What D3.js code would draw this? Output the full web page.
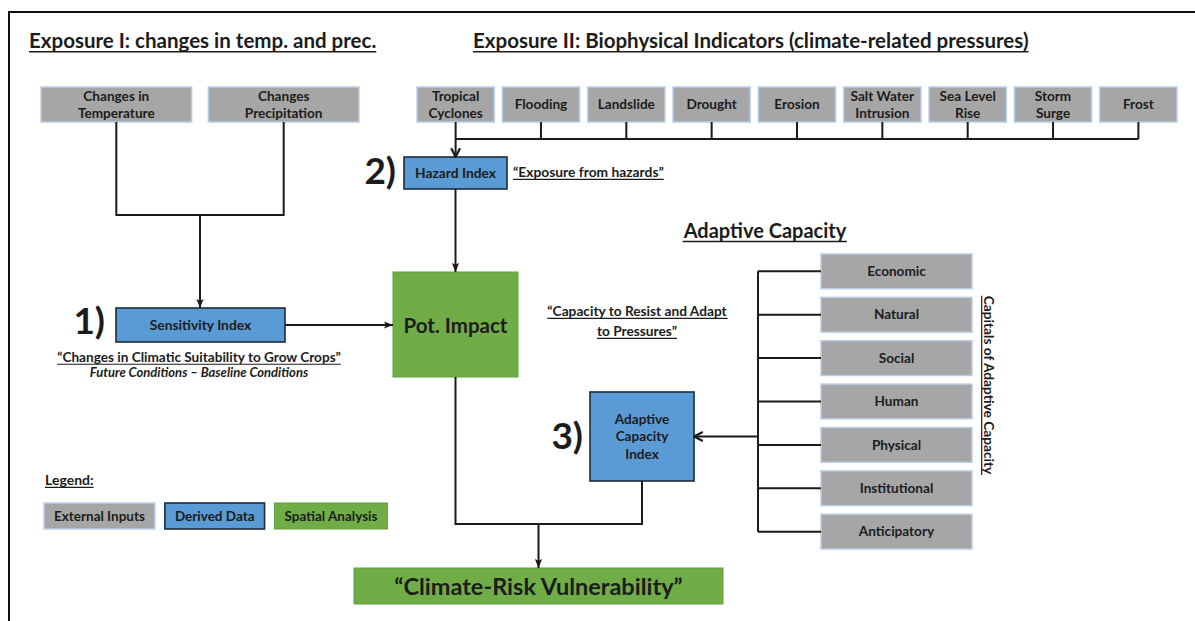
<!DOCTYPE html>
<html><head><meta charset="utf-8">
<script src="https://cdn.jsdelivr.net/npm/d3@7"></script>
<style>
body{margin:0;background:#fff}
svg{display:block}
text{font-family:Lato,"Open Sans",sans-serif;font-weight:700;fill:#1c1c1c}
</style>
</head><body>
<svg id="c" width="1195" height="621"></svg>
<script>
// ---- content ----
const titles = ["Exposure I: changes in temp. and prec.", "Exposure II: Biophysical Indicators (climate-related pressures)", "Adaptive Capacity"];
const exposureInputs = ["Changes in|Temperature", "Changes|Precipitation"];
const hazards = ["Tropical|Cyclones", "Flooding", "Landslide", "Drought", "Erosion", "Salt Water|Intrusion", "Sea Level|Rise", "Storm|Surge", "Frost"];
const capitals = ["Economic", "Natural", "Social", "Human", "Physical", "Institutional", "Anticipatory"];
const indexLabels = ["Sensitivity Index", "Hazard Index", "Adaptive|Capacity|Index"];
const indexNumbers = ["1)", "2)", "3)"];
const notes = ["“Changes in Climatic Suitability to Grow Crops”", "Future Conditions – Baseline Conditions", "“Exposure from hazards”", "“Capacity to Resist and Adapt|to Pressures”", "Capitals of Adaptive Capacity"];
const outputs = ["Pot. Impact", "“Climate-Risk Vulnerability”"];
const legendTitle = "Legend:";
const legendItems = ["External Inputs", "Derived Data", "Spatial Analysis"];
const legendKinds = ["input", "derived", "spatial"];

// ---- styles ----
const STY = {
  input:   {fill: "#a6a6a6", stroke: "#b9cde6", sw: 1.5},
  derived: {fill: "#5b9bd5", stroke: "#1d2b3d", sw: 1.6},
  spatial: {fill: "#70ad47", stroke: "#63a03c", sw: 1}
};
const LINE = "#1a1a1a";

const svg = d3.select("#c");
const defs = svg.append("defs");
defs.append("marker").attr("id", "arr").attr("viewBox", "0 0 10 10")
  .attr("refX", 10).attr("refY", 5).attr("markerWidth", 9).attr("markerHeight", 9)
  .attr("markerUnits", "userSpaceOnUse").attr("orient", "auto")
  .append("path").attr("d", "M0,1 L10,5 L0,9 L2,5 Z").attr("fill", LINE);
defs.append("marker").attr("id", "chev").attr("viewBox", "0 0 10 10")
  .attr("refX", 9).attr("refY", 5).attr("markerWidth", 11).attr("markerHeight", 11)
  .attr("markerUnits", "userSpaceOnUse").attr("orient", "auto")
  .append("path").attr("d", "M1,1 L9,5 L1,9").attr("fill", "none").attr("stroke", LINE).attr("stroke-width", 2);

// frame
svg.append("path").attr("d", "M9,621 V12 H1195").attr("fill", "none").attr("stroke", "#111").attr("stroke-width", 2);

function box(g, x, y, w, h, kind) {
  const s = STY[kind];
  return g.append("rect").attr("x", x).attr("y", y).attr("width", w).attr("height", h)
    .attr("fill", s.fill).attr("stroke", s.stroke).attr("stroke-width", s.sw);
}
function label(g, str, cx, cy, size, lh, opts = {}) {
  const lines = str.split("|");
  const t = g.append("text").attr("text-anchor", opts.anchor || "middle")
    .attr("font-size", size).attr("font-style", opts.italic ? "italic" : null);
  const y0 = cy - (lines.length - 1) * lh / 2;
  lines.forEach((ln, i) => {
    t.append("tspan").attr("x", cx).attr("y", y0 + i * lh).attr("dy", "0.35em").text(ln);
  });
  return t;
}
function underline(t, off = 2, sw = 1.2) {
  const g = d3.select(t.node().parentNode);
  t.selectAll("tspan").each(function () {
    const b = this.getBBox();
    const base = +this.getAttribute("y") + parseFloat(t.attr("font-size")) * 0.35 + off;
    g.append("line").attr("x1", b.x).attr("x2", b.x + b.width).attr("y1", base).attr("y2", base)
      .attr("stroke", "#1c1c1c").attr("stroke-width", sw);
  });
}
function link(d, marker) {
  const p = svg.append("path").attr("d", d).attr("fill", "none").attr("stroke", LINE).attr("stroke-width", 2);
  if (marker) p.attr("marker-end", `url(#${marker})`);
  return p;
}

const G = svg.append("g");
const BOX_FS = 13.6;

// titles
underline(label(G, titles[0], 29, 41, 20.5, 0, {anchor: "start"}), 3.5, 1.6);
underline(label(G, titles[1], 473, 41, 20.5, 0, {anchor: "start"}), 3.5, 1.6);
underline(label(G, titles[2], 765, 231, 20, 0), 3.5, 1.6);

// ---- Exposure I inputs ----
const xIn = d3.scaleBand().domain(exposureInputs).range([41, 359]).paddingInner(0.1);
const inTop = 87, inH = 35;
exposureInputs.forEach(d => {
  box(G, xIn(d), inTop, xIn.bandwidth(), inH, "input");
  label(G, d, xIn(d) + xIn.bandwidth() / 2, inTop + inH / 2, BOX_FS, 16.5);
});
const c0 = xIn(exposureInputs[0]) + xIn.bandwidth() / 2;
const c1 = xIn(exposureInputs[1]) + xIn.bandwidth() / 2;
link(`M${c0},${inTop + inH} V215 H${c1} V${inTop + inH}`);

// sensitivity index
const sens = {x: 116, y: 308, w: 169, h: 34};
link(`M${(c0 + c1) / 2},215 V${sens.y}`, "arr");
box(G, sens.x, sens.y, sens.w, sens.h, "derived");
label(G, indexLabels[0], sens.x + sens.w / 2, sens.y + sens.h / 2, 13.8, 0);
label(G, indexNumbers[0], sens.x - 11, 321, 37, 0, {anchor: "end"});
underline(label(G, notes[0], 199, 357, 13.6, 0), 2.5);
label(G, notes[1], 199, 372, 13, 0, {italic: true});

// ---- Hazards ----
const xH = d3.scaleBand().domain(hazards).range([417, 1177]).paddingInner(0.095);
const hTop = 87, hH = 35, busY = 139;
const hc = d => xH(d) + xH.bandwidth() / 2;
hazards.forEach((d, i) => {
  if (i > 0) link(`M${hc(d)},${hTop + hH} V${busY}`);
});
link(`M${hc(hazards[0])},${busY} H${hc(hazards[hazards.length - 1])}`);
hazards.forEach(d => {
  box(G, xH(d), hTop, xH.bandwidth(), hH, "input");
  label(G, d, hc(d), hTop + hH / 2, BOX_FS, 16.5);
});

const pot = {x: 393, y: 272, w: 125, h: 105};
const potC = pot.x + pot.w / 2;
const haz = {x: 404, y: 157, w: 103, h: 32};
link(`M${hc(hazards[0])},${hTop + hH} V${haz.y}`, "chev");
box(G, haz.x, haz.y, haz.w, haz.h, "derived");
label(G, indexLabels[1], haz.x + haz.w / 2, haz.y + haz.h / 2, 13.8, 0);
label(G, indexNumbers[1], haz.x - 8, 171, 37, 0, {anchor: "end"});
underline(label(G, notes[2], 513, 172, 13.8, 0, {anchor: "start"}), 2.5);

// hazard -> pot impact ; sensitivity -> pot impact
link(`M${potC},${haz.y + haz.h} V${pot.y}`, "arr");
link(`M${sens.x + sens.w},${sens.y + sens.h / 2} H${pot.x}`, "arr");
box(G, pot.x, pot.y, pot.w, pot.h, "spatial");
label(G, outputs[0], potC, pot.y + pot.h / 2 + 1, 20.5, 0);

// ---- Adaptive capacity ----
const yC = d3.scaleBand().domain(capitals).range([254, 549]).paddingInner(0.2);
const capX = 821, capW = 151, brX = 758;
const cc = d => yC(d) + yC.bandwidth() / 2;
link(`M${brX},${cc(capitals[0])} V${cc(capitals[capitals.length - 1])}`);
capitals.forEach(d => {
  link(`M${brX},${cc(d)} H${capX}`);
  box(G, capX, yC(d), capW, yC.bandwidth(), "input");
  label(G, d, capX + capW / 2, cc(d), BOX_FS, 0);
});
const ada = {x: 590, y: 392, w: 104, h: 89};
link(`M${brX},${ada.y + ada.h / 2} H${ada.x + ada.w}`, "chev");
box(G, ada.x, ada.y, ada.w, ada.h, "derived");
label(G, indexLabels[2], ada.x + ada.w / 2, ada.y + ada.h / 2, 13.6, 17.5);
label(G, indexNumbers[2], ada.x - 7, 436, 37, 0, {anchor: "end"});
underline(label(G, notes[3], 637, 321, 13.7, 20), 2.5);

// rotated caption
const rg = G.append("g").attr("transform", "translate(989,385) rotate(90)");
underline(label(rg, notes[4], 0, 0, 13.7, 0), 2.5);

// ---- Final output ----
const cr = {x: 354, y: 568, w: 369, h: 36};
const crC = cr.x + cr.w / 2;
const joinY = 524;
link(`M${potC},${pot.y + pot.h} V${joinY} H${ada.x + ada.w / 2} V${ada.y + ada.h}`);
link(`M${crC},${joinY} V${cr.y}`, "arr");
box(G, cr.x, cr.y, cr.w, cr.h, "spatial");
label(G, outputs[1], crC, cr.y + cr.h / 2 + 1, 23.5, 0);

// ---- Legend ----
underline(label(G, legendTitle, 45, 480, 14, 0, {anchor: "start"}), 2.5);
let lx = 44;
legendItems.forEach((d, i) => {
  const t = label(G, d, 0, 516, 13.5, 0, {anchor: "start"});
  const w = t.node().getComputedTextLength() + 20;
  t.remove();
  box(G, lx, 503, w, 26, legendKinds[i]);
  label(G, d, lx + w / 2, 516, 13.5, 0);
  lx += w + 10;
});
</script>
</body></html>
